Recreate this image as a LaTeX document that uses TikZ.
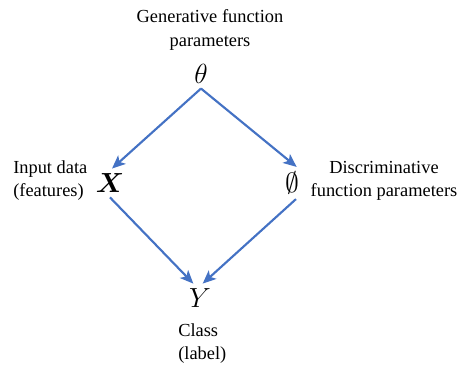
\documentclass[tikz,border=0pt]{standalone}
\usepackage{bm}
\usepackage{fontspec}
\setmainfont{Liberation Serif}
\usetikzlibrary{arrows.meta}

\definecolor{arrowblue}{RGB}{68,114,196}

\begin{document}
\begin{tikzpicture}[
    x=0.75pt, y=-0.75pt,
    % Define styles
    var/.style={
        font=\fontsize{22}{22}\selectfont,
        inner sep=3.5pt
    },
    caption/.style={
        font=\fontsize{13.8}{17.3}\selectfont,
        align=center,
        inner sep=0pt
    },
    arrow/.style={
        -{Stealth[length=10pt, width=8.5pt, inset=2.5pt]},
        line width=1.6pt,
        draw=arrowblue
    }
]
\useasboundingbox (0,0) rectangle (457,365);

% ============================================================
% Variables
% ============================================================
\node[var] (theta) at (201,74) {$\theta$};
\node[var] (x) at (110,183) {$\bm{X}$};
\node[var] (phi) at (292,183) {$\emptyset$};
\node[var] (y) at (200,298) {$Y$};

% ============================================================
% Captions
% ============================================================
\node[caption] (gen_label) at (210,30) {Generative function\\parameters};
\node[caption, align=left, anchor=west] (input_label) at (13,181) {Input data\\(features)};
\node[caption] (disc_label) at (384,181) {Discriminative\\function parameters};
\node[caption, align=left, anchor=west] (class_label) at (178,344) {Class\\(label)};

% ============================================================
% Connections
% ============================================================
\draw[arrow] (theta.south) -- ([xshift=1.5pt]x.north);
\draw[arrow] (theta.south) -- ([xshift=3.5pt]phi.north);
\draw[arrow] (x.south) -- ([xshift=-5pt]y.north);
\draw[arrow] ([xshift=3pt]phi.south) -- ([xshift=2pt]y.north);

\end{tikzpicture}
\end{document}
